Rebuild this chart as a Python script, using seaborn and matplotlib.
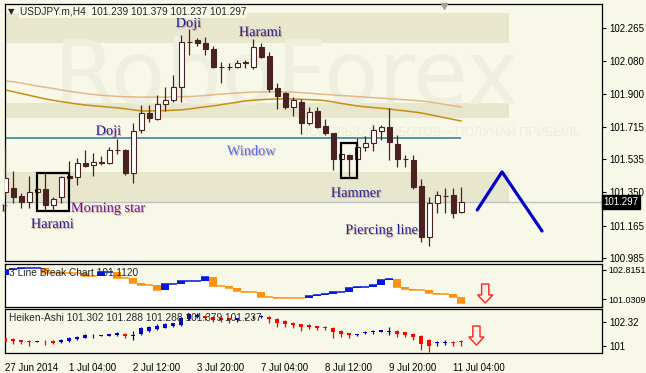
import numpy as np
import matplotlib.pyplot as plt
import matplotlib.patheffects as pe
import seaborn as sns
from matplotlib.patches import Rectangle, FancyArrow

# ---- price candles (USDJPY.m, H4) ----
opens = [101.352, 101.375, 101.330, 101.297, 101.352, 101.369, 101.280, 101.325, 101.441, 101.436,
         101.514, 101.503, 101.519, 101.514, 101.586, 101.586, 101.458, 101.697, 101.792, 101.759,
         101.842, 101.864, 101.937, 102.187, 102.198, 102.182, 102.148, 102.048, 102.048, 102.048,
         102.076, 102.048, 102.159, 102.109, 101.931, 101.903, 101.825, 101.853, 101.736, 101.803,
         101.720, 101.681, 101.536, 101.558, 101.536, 101.603, 101.625, 101.692, 101.714, 101.619,
         101.536, 101.530, 101.386, 101.102, 101.291, 101.330, 101.336, 101.239]
highs = [101.603, 101.469, 101.347, 101.441, 101.375, 101.458, 101.325, 101.441, 101.525, 101.542,
         101.586, 101.569, 101.553, 101.603, 101.647, 101.592, 101.736, 101.836, 101.836, 101.892,
         101.937, 102.003, 102.226, 102.259, 102.209, 102.215, 102.165, 102.076, 102.070, 102.087,
         102.087, 102.204, 102.182, 102.131, 101.959, 101.909, 101.881, 101.870, 101.825, 101.825,
         101.759, 101.681, 101.569, 101.564, 101.653, 101.664, 101.725, 101.725, 101.820, 101.670,
         101.558, 101.558, 101.425, 101.325, 101.358, 101.375, 101.375, 101.379]
lows = [101.319, 101.291, 101.263, 101.263, 101.347, 101.252, 101.252, 101.291, 101.425, 101.391,
        101.491, 101.441, 101.503, 101.508, 101.564, 101.447, 101.402, 101.681, 101.742, 101.753,
        101.803, 101.853, 101.853, 102.115, 102.165, 102.115, 102.042, 101.959, 102.031, 102.042,
        102.042, 102.037, 102.098, 101.909, 101.814, 101.814, 101.775, 101.675, 101.725, 101.708,
        101.670, 101.475, 101.530, 101.430, 101.530, 101.581, 101.581, 101.642, 101.530, 101.491,
        101.491, 101.369, 101.074, 101.052, 101.235, 101.235, 101.208, 101.237]
closes = [101.430, 101.325, 101.297, 101.352, 101.369, 101.280, 101.313, 101.436, 101.430, 101.514,
          101.497, 101.519, 101.514, 101.586, 101.583, 101.458, 101.692, 101.792, 101.764, 101.842,
          101.864, 101.937, 102.187, 102.184, 102.182, 102.148, 102.048, 102.045, 102.045, 102.070,
          102.070, 102.159, 102.104, 101.926, 101.887, 101.825, 101.864, 101.736, 101.798, 101.714,
          101.681, 101.536, 101.564, 101.536, 101.603, 101.625, 101.697, 101.714, 101.631, 101.536,
          101.533, 101.380, 101.102, 101.291, 101.336, 101.327, 101.235, 101.297]

# moving averages
ma_light = [101.970, 101.965, 101.958, 101.950, 101.942, 101.935, 101.928, 101.920, 101.913, 101.906,
            101.900, 101.895, 101.890, 101.887, 101.884, 101.882, 101.881, 101.880, 101.880, 101.880,
            101.880, 101.881, 101.882, 101.883, 101.886, 101.889, 101.893, 101.897, 101.900, 101.903,
            101.906, 101.908, 101.909, 101.909, 101.909, 101.909, 101.908, 101.905, 101.902, 101.898,
            101.895, 101.892, 101.889, 101.886, 101.883, 101.880, 101.877, 101.874, 101.871, 101.868,
            101.865, 101.862, 101.859, 101.853, 101.846, 101.839, 101.832, 101.825]
ma_dark = [101.920, 101.910, 101.900, 101.890, 101.880, 101.870, 101.862, 101.855, 101.848, 101.842,
           101.836, 101.832, 101.828, 101.824, 101.820, 101.815, 101.809, 101.803, 101.803, 101.804,
           101.805, 101.807, 101.809, 101.814, 101.820, 101.826, 101.831, 101.838, 101.845, 101.852,
           101.859, 101.863, 101.866, 101.868, 101.870, 101.870, 101.869, 101.868, 101.866, 101.864,
           101.860, 101.853, 101.845, 101.838, 101.831, 101.826, 101.822, 101.818, 101.814, 101.808,
           101.803, 101.798, 101.792, 101.783, 101.774, 101.765, 101.756, 101.747]

# levels drawn on the chart
bands = [(102.182, 102.348), (101.764, 101.848), (101.291, 101.464)]
band_end = 63.0
window_level = 101.653
window_end = 57
price_ticks = [102.265, 102.080, 101.900, 101.715, 101.535, 101.350, 101.165, 100.985]

harami_box = (4.0, 8.0, 101.247, 101.458)
hammer_box = (42.0, 44.0, 101.430, 101.625)
zigzag_x = [59.0, 62.1, 67.1]
zigzag_y = [101.252, 101.464, 101.135]

# label, x (bar), y (price), colour
patterns = [
    ('Doji', 21.3, 102.270, '#1c1c8e'),
    ('Harami', 29.2, 102.220, '#1c1c8e'),
    ('Doji', 11.3, 101.670, '#1c1c8e'),
    ('Window', 27.7, 101.558, '#4f72ee'),
    ('Harami', 3.2, 101.152, '#1c1c8e'),
    ('Morning star', 8.2, 101.241, '#6a1294'),
    ('Hammer', 40.7, 101.325, '#1c1c8e'),
    ('Piercing line', 42.5, 101.119, '#1c1c8e'),
]

# ---- 3 Line Break ----
lb_start = 102.508
lb_levels = [102.815, 102.877, 102.938, 102.938, 102.938, 102.631, 102.631, 102.631, 102.631, 102.631,
             102.446, 102.446, 102.692, 102.692, 102.323, 102.323, 102.016, 101.893, 101.893, 101.585,
             101.954, 101.954, 102.139, 102.139, 102.139, 102.385, 101.831, 101.831, 101.708, 101.524,
             101.462, 101.462, 101.154, 101.154, 101.093, 101.093, 101.093, 101.093, 101.216, 101.278,
             101.339, 101.462, 101.462, 101.708, 101.770, 101.770, 101.893, 102.200, 102.262, 101.770,
             101.647, 101.585, 101.585, 101.401, 101.339, 101.339, 101.154, 100.785]
lb_ticks = [102.8151, 101.0309]

# ---- Heiken-Ashi ----
ha_open = [101.422, 101.386, 101.312, 101.276, 101.220, 101.331, 101.276, 101.202, 101.276, 101.386,
           101.459, 101.532, 101.569, 101.551, 101.606, 101.661, 101.569, 101.642, 101.826, 101.936,
           102.009, 102.101, 102.156, 102.486, 102.614, 102.669, 102.614, 102.559, 102.522, 102.449,
           102.522, 102.577, 102.614, 102.614, 102.486, 102.394, 102.284, 102.192, 102.156, 102.101,
           102.064, 102.009, 101.826, 101.697, 101.606, 101.716, 101.771, 101.789, 101.789, 101.826,
           101.752, 101.642, 101.551, 101.331, 101.184, 101.184, 101.220, 101.257]
ha_close = [101.239, 101.276, 101.202, 101.239, 101.257, 101.312, 101.148, 101.331, 101.459, 101.514,
            101.606, 101.569, 101.587, 101.642, 101.734, 101.569, 101.606, 102.009, 102.064, 102.119,
            102.211, 102.248, 102.522, 102.742, 102.706, 102.522, 102.431, 102.431, 102.412, 102.522,
            102.559, 102.614, 102.669, 102.486, 102.248, 102.192, 102.156, 102.064, 102.064, 102.009,
            101.972, 101.752, 101.642, 101.606, 101.642, 101.752, 101.807, 101.862, 101.826, 101.642,
            101.606, 101.514, 101.093, 101.019, 101.220, 101.220, 101.184, 101.220]
ha_high = [101.459, 101.422, 101.331, 101.331, 101.257, 101.331, 101.312, 101.386, 101.514, 101.569,
           101.642, 101.642, 101.606, 101.661, 101.789, 101.697, 101.826, 102.064, 102.119, 102.192,
           102.248, 102.284, 102.614, 102.797, 102.797, 102.706, 102.651, 102.614, 102.559, 102.559,
           102.596, 102.706, 102.706, 102.632, 102.522, 102.431, 102.302, 102.229, 102.192, 102.119,
           102.082, 102.046, 101.862, 101.734, 101.679, 101.826, 101.862, 101.899, 102.046, 101.862,
           101.789, 101.679, 101.587, 101.367, 101.257, 101.312, 101.276, 101.331]
ha_low = [101.148, 101.093, 101.093, 101.019, 101.220, 101.056, 101.093, 101.148, 101.202, 101.331,
          101.422, 101.422, 101.551, 101.532, 101.569, 101.422, 101.331, 101.606, 101.789, 101.881,
          101.972, 102.064, 102.119, 102.431, 102.559, 102.431, 102.339, 102.339, 102.248, 102.339,
          102.486, 102.486, 102.559, 102.248, 102.064, 102.064, 101.972, 101.826, 101.936, 101.881,
          101.881, 101.459, 101.514, 101.422, 101.532, 101.642, 101.679, 101.752, 101.606, 101.514,
          101.514, 101.331, 100.781, 100.689, 101.019, 101.056, 101.019, 101.019]
ha_ticks = [102.32, 101]

date_labels = ['27 Jun 2014', '1 Jul 04:00', '2 Jul 12:00', '3 Jul 20:00',
               '7 Jul 04:00', '8 Jul 12:00', '9 Jul 20:00', '11 Jul 04:00']

BG = '#f8f8e8'
BAND = '#e8e6cc'
CANDLE = '#4a2222'

sns.set_style('white')
plt.rcParams['font.family'] = ['Liberation Sans', 'DejaVu Sans']

W, H = 646, 373
fig = plt.figure(figsize=(W / 100, H / 100), dpi=100, facecolor=BG)


def box(top, bottom, left=4.5, right=602):
    return [left / W, 1 - bottom / H, (right - left) / W, (bottom - top) / H]


ax = fig.add_axes(box(3.5, 261))
ax1 = fig.add_axes(box(264, 306.5))
ax2 = fig.add_axes(box(308.5, 353))

idx = np.arange(len(closes))
xlim = (-0.1, 74.6)
for a in (ax, ax1, ax2):
    a.set_facecolor(BG)
    a.set_xlim(*xlim)
    for s in a.spines.values():
        s.set_color('black')
        s.set_linewidth(0.9)
    a.yaxis.tick_right()
    a.tick_params(axis='y', direction='out', length=3, width=0.8, labelsize=7, pad=2, colors='black')
    a.set_xticks([])

ax.set_ylim(100.968, 102.401)
ax1.set_ylim(100.570, 103.184)
ax2.set_ylim(100.616, 103.063)

# ---- main chart ----
for lo, hi in bands:
    ax.add_patch(Rectangle((xlim[0], lo), band_end - xlim[0], hi - lo, color=BAND, lw=0, zorder=0))

ax.text(6.0, 101.840, 'RoboForex', fontsize=64, color='#efefe0', family='DejaVu Sans',
        va='baseline', zorder=0.5)
ax.text(72.0, 101.680, 'ИСПОЛЬЗУЙ РОБОТОВ – ПОЛУЧАЙ ПРИБЫЛЬ', fontsize=9, color='#ededdc',
        ha='right', va='center', zorder=0.5)

sns.lineplot(x=idx, y=ma_light, ax=ax, color='#e3b98c', lw=1.1, zorder=1)
sns.lineplot(x=idx, y=ma_dark, ax=ax, color='#c48f14', lw=1.1, zorder=1)

ax.hlines(window_level, xlim[0], window_end, color='#3a8796', lw=1.2, zorder=1)
ax.axhline(closes[-1], color='#c0c0c0', lw=1.0, zorder=1)

o, h, l, c = (np.array(v) for v in (opens, highs, lows, closes))
up = c >= o
ax.vlines(idx, l, h, color=CANDLE, lw=0.9, zorder=3)
ax.bar(idx, np.maximum(np.abs(c - o), 0.003), bottom=np.minimum(o, c), width=0.62,
       color=np.where(up, 'white', CANDLE), edgecolor=CANDLE, lw=0.8, zorder=4)

for x0, x1, y0, y1 in (harami_box, hammer_box):
    ax.add_patch(Rectangle((x0, y0), x1 - x0, y1 - y0, fill=False, ec='black', lw=1.6, zorder=5))

sns.lineplot(x=zigzag_x, y=zigzag_y, ax=ax, color='#0000c8', lw=2.3, sort=False, zorder=5)

shadow = [pe.withSimplePatchShadow(offset=(0.8, -0.8), shadow_rgbFace='#c07070', alpha=0.55)]
for txt, x, y, col in patterns:
    ax.text(x, y, txt, color=col, fontsize=10.3, family='Liberation Serif', va='baseline',
            zorder=6, path_effects=shadow)
ax.text(0.15, 101.245, 'r', color='#1c1c8e', fontsize=10.3, family='Liberation Serif',
        ha='right', va='baseline', clip_on=False, zorder=6, path_effects=shadow)

ax.plot([54.8], [102.385], marker='v', color='#a0a0a0', ms=5, clip_on=False, zorder=6)

ax.set_yticks(price_ticks)
ax.set_yticklabels([f'{v:.3f}' for v in price_ticks])
ax.text(1.002, closes[-1], f'{closes[-1]:.3f}', transform=ax.get_yaxis_transform(),
        color='white', fontsize=7, va='center', ha='left',
        bbox=dict(facecolor='black', edgecolor='black', pad=1.2), clip_on=False, zorder=7)

fig.text(8 / W, 1 - 12 / H, '▼', fontsize=6, va='center', family='DejaVu Sans')
fig.text(20 / W, 1 - 12 / H,
         f'USDJPY.m,H4  {opens[-1]:.3f} {highs[-1]:.3f} {lows[-1]:.3f} {closes[-1]:.3f}',
         fontsize=7.3, va='center', bbox=dict(facecolor=BG, edgecolor='none', pad=0.5))

# ---- 3 line break panel ----
lb = np.array(lb_levels)
prev = np.concatenate([[lb_start], lb[:-1]])
ax1.fill_between(idx, lb, ax1.get_ylim()[0], step='mid', color='white', lw=0, zorder=1)
colors = []
cur = '#0018e0'
for p, v in zip(prev, lb):
    if v > p:
        cur = '#0018e0'
    elif v < p:
        cur = '#ff9010'
    colors.append(cur)
ax1.hlines(lb, idx - 0.5, idx + 0.5, colors=colors, lw=1.1, zorder=2)
moved = lb != prev
ax1.bar(idx[moved], (lb - prev)[moved], bottom=prev[moved], width=1.0,
        color=np.array(colors)[moved], lw=0, zorder=3)
ax1.add_patch(FancyArrow(60.0, 101.954, 0, -1.17, width=0.9, head_width=1.9, head_length=0.5,
                         length_includes_head=True, fc='#fff4ea', ec='#ff2020', lw=1.0, zorder=4))
ax1.set_yticks(lb_ticks)
ax1.set_yticklabels([f'{v:.4f}' for v in lb_ticks])
ax1.tick_params(axis='y', labelsize=6.5, pad=1.5)
fig.text(9 / W, 1 - 273 / H, '3 Line Break Chart 101.1120', fontsize=7.3, va='center')

# ---- Heiken-Ashi panel ----
ho, hc, hh, hl = (np.array(v) for v in (ha_open, ha_close, ha_high, ha_low))
ha_col = np.where(hc >= ho, '#0000d0', '#ff0000')
ax2.vlines(idx, hl, hh, colors=ha_col, lw=0.9, zorder=2)
ax2.bar(idx, np.maximum(np.abs(hc - ho), 0.03), bottom=np.minimum(ho, hc), width=0.5,
        color=ha_col, lw=0, zorder=3)
ax2.add_patch(FancyArrow(58.9, 102.10, 0, -1.05, width=0.9, head_width=1.9, head_length=0.45,
                         length_includes_head=True, fc='#fff4ea', ec='#ff2020', lw=1.0, zorder=4))
ax2.set_yticks(ha_ticks)
ax2.set_yticklabels(['102.32', '101'])
fig.text(9 / W, 1 - 318 / H, 'Heiken-Ashi 101.302 101.288 101.288 101.379 101.237', fontsize=7.3,
         va='center')

ax2.set_xticks(idx[::8])
ax2.set_xticklabels(date_labels, ha='left', fontsize=6.9)
ax2.tick_params(axis='x', direction='out', length=4, width=0.8, pad=3, colors='black')

fig.savefig('out.png', dpi=100, facecolor=BG)
